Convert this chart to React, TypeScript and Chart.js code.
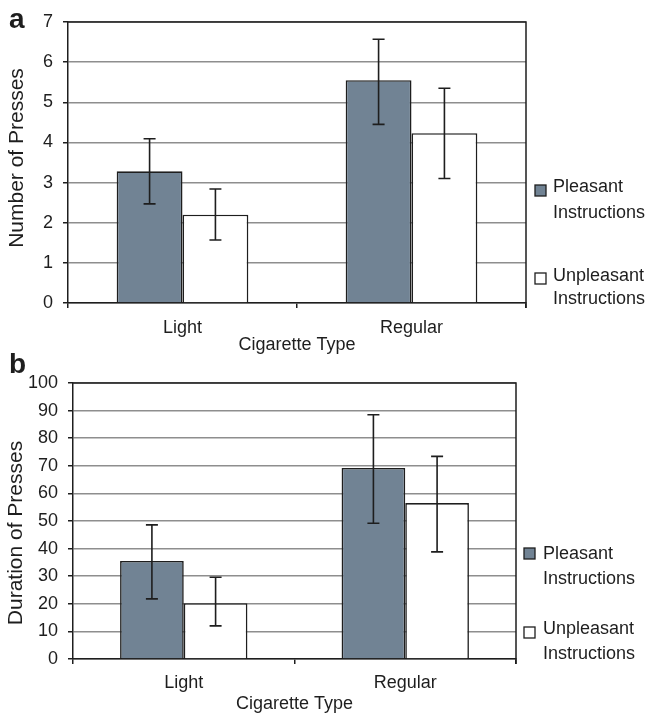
import React, { useEffect, useRef } from "react";
import { Chart, registerables } from "chart.js";

Chart.register(...registerables);

// ---------- data ----------
const categories = ["Light", "Regular"];
const seriesNames = ["Pleasant Instructions", "Unpleasant Instructions"];
const legendLines = [
  ["Pleasant", "Instructions"],
  ["Unpleasant", "Instructions"],
];
const xAxisTitle = "Cigarette Type";

// Panel a: Number of Presses
const pressesTitle = "Number of Presses";
const pressesMax = 7;
const pressesStep = 1;
const pressesPleasant = [3.28, 5.55];
const pressesPleasantHigh = [4.09, 6.57];
const pressesPleasantLow = [2.47, 4.45];
const pressesUnpleasant = [2.2, 4.23];
const pressesUnpleasantHigh = [2.84, 5.35];
const pressesUnpleasantLow = [1.57, 3.1];

// Panel b: Duration of Presses
const durationTitle = "Duration of Presses";
const durationMax = 100;
const durationStep = 10;
const durationPleasant = [35.5, 69.2];
const durationPleasantHigh = [48.6, 88.5];
const durationPleasantLow = [21.8, 49.2];
const durationUnpleasant = [20.2, 56.5];
const durationUnpleasantHigh = [29.6, 73.4];
const durationUnpleasantLow = [12.0, 38.8];

// ---------- style ----------
const FONT = "'Liberation Sans', Arial, Helvetica, sans-serif";
const DARK = "#1e1e1e";
const GRID = "#8e8e8e";
const PLEASANT_FILL = "#718394";
const UNPLEASANT_FILL = "#ffffff";

type Layout = {
  canvasTop: number;
  canvasHeight: number;
  padTop: number;
  padRight: number;
  yWidth: number;
  xHeight: number;
  xTickPad: number;
  xTitlePadBottom: number;
  yTitleX: number;
  yTitleY: number;
  letter: string;
  letterX: number;
  letterY: number;
  legendSquareX: number;
  legendTextX: number;
  legendRows: { sq: number; lines: number[] }[];
};

type Spec = {
  yTitle: string;
  yMax: number;
  yStep: number;
  values: number[][];
  highs: number[][];
  lows: number[][];
  layout: Layout;
};

const specA: Spec = {
  yTitle: pressesTitle,
  yMax: pressesMax,
  yStep: pressesStep,
  values: [pressesPleasant, pressesUnpleasant],
  highs: [pressesPleasantHigh, pressesUnpleasantHigh],
  lows: [pressesPleasantLow, pressesUnpleasantLow],
  layout: {
    canvasTop: 0,
    canvasHeight: 360,
    padTop: 22,
    padRight: 121,
    yWidth: 68,
    xHeight: 57,
    xTickPad: 9,
    xTitlePadBottom: 4,
    yTitleX: 17,
    yTitleY: 158,
    letter: "a",
    letterX: 9,
    letterY: 28,
    legendSquareX: 535,
    legendTextX: 553,
    legendRows: [
      { sq: 185, lines: [191.5, 218] },
      { sq: 273, lines: [280.5, 303.5] },
    ],
  },
};

const specB: Spec = {
  yTitle: durationTitle,
  yMax: durationMax,
  yStep: durationStep,
  values: [durationPleasant, durationUnpleasant],
  highs: [durationPleasantHigh, durationUnpleasantHigh],
  lows: [durationPleasantLow, durationUnpleasantLow],
  layout: {
    canvasTop: 340,
    canvasHeight: 375,
    padTop: 43,
    padRight: 131,
    yWidth: 73,
    xHeight: 56,
    xTickPad: 8,
    xTitlePadBottom: 0,
    yTitleX: 16,
    yTitleY: 193,
    letter: "b",
    letterX: 9,
    letterY: 33,
    legendSquareX: 524,
    legendTextX: 543,
    legendRows: [
      { sq: 208, lines: [218.5, 243.5] },
      { sq: 287, lines: [293.5, 318.5] },
    ],
  },
};

function makeConfig(spec: Spec): any {
  const L = spec.layout;
  const fills = [PLEASANT_FILL, UNPLEASANT_FILL];

  const decorations = {
    id: "decorations",
    afterDatasetsDraw(chart: any) {
      const ctx = chart.ctx;
      const area = chart.chartArea;
      const yScale = chart.scales.y;

      // error bars
      ctx.save();
      ctx.strokeStyle = DARK;
      ctx.lineWidth = 1.6;
      spec.values.forEach((_, di) => {
        const meta = chart.getDatasetMeta(di);
        meta.data.forEach((bar: any, i: number) => {
          const x = bar.x;
          const yh = yScale.getPixelForValue(spec.highs[di][i]);
          const yl = yScale.getPixelForValue(spec.lows[di][i]);
          ctx.beginPath();
          ctx.moveTo(x, yh);
          ctx.lineTo(x, yl);
          ctx.moveTo(x - 6, yh);
          ctx.lineTo(x + 6, yh);
          ctx.moveTo(x - 6, yl);
          ctx.lineTo(x + 6, yl);
          ctx.stroke();
        });
      });

      // top and right frame
      ctx.beginPath();
      ctx.lineWidth = 1.5;
      ctx.moveTo(area.left, area.top);
      ctx.lineTo(area.right, area.top);
      ctx.lineTo(area.right, area.bottom + 5);
      ctx.stroke();
      ctx.restore();
    },
    afterDraw(chart: any) {
      const ctx = chart.ctx;
      ctx.save();
      ctx.fillStyle = DARK;

      // y title
      ctx.save();
      ctx.translate(L.yTitleX, L.yTitleY);
      ctx.rotate(-Math.PI / 2);
      ctx.font = `21px ${FONT}`;
      ctx.textAlign = "center";
      ctx.textBaseline = "middle";
      ctx.fillText(spec.yTitle, 0, 0);
      ctx.restore();

      // panel letter
      ctx.font = `bold 28px ${FONT}`;
      ctx.textAlign = "left";
      ctx.textBaseline = "alphabetic";
      ctx.fillText(L.letter, L.letterX, L.letterY);

      // legend
      ctx.font = `18px ${FONT}`;
      L.legendRows.forEach((row, si) => {
        ctx.fillStyle = fills[si];
        ctx.fillRect(L.legendSquareX, row.sq, 11, 11);
        ctx.strokeStyle = DARK;
        ctx.lineWidth = 1.3;
        ctx.strokeRect(L.legendSquareX, row.sq, 11, 11);
        ctx.fillStyle = DARK;
        legendLines[si].forEach((t, li) => {
          ctx.fillText(t, L.legendTextX, row.lines[li]);
        });
      });
      ctx.restore();
    },
  };

  return {
    type: "bar",
    data: {
      labels: categories,
      datasets: spec.values.map((vals, di) => ({
        label: seriesNames[di],
        data: vals,
        backgroundColor: fills[di],
        borderColor: DARK,
        borderWidth: 1.6,
        categoryPercentage: 0.575,
        barPercentage: 1.0,
      })),
    },
    options: {
      animation: false,
      responsive: false,
      devicePixelRatio: 1,
      layout: {
        padding: { top: L.padTop, right: L.padRight, left: 0, bottom: 0 },
      },
      plugins: {
        legend: { display: false },
        tooltip: { enabled: false },
        title: { display: false },
      },
      scales: {
        x: {
          offset: true,
          grid: {
            offset: true,
            drawOnChartArea: false,
            drawTicks: true,
            tickLength: 5,
            color: DARK,
            lineWidth: 1.5,
          },
          border: { color: DARK, width: 1.5 },
          ticks: {
            color: DARK,
            padding: L.xTickPad,
            font: { family: FONT, size: 18 },
          },
          title: {
            display: true,
            text: xAxisTitle,
            color: DARK,
            padding: { top: 0, bottom: L.xTitlePadBottom },
            font: { family: FONT, size: 18 },
          },
          afterFit(scale: any) {
            scale.height = L.xHeight;
          },
        },
        y: {
          min: 0,
          max: spec.yMax,
          grid: {
            color: GRID,
            lineWidth: 1.5,
            tickColor: DARK,
            tickLength: 5,
            drawTicks: true,
          },
          border: { color: DARK, width: 1.5 },
          ticks: {
            stepSize: spec.yStep,
            color: DARK,
            padding: 10,
            font: { family: FONT, size: 18 },
          },
          afterFit(scale: any) {
            scale.width = L.yWidth;
          },
        },
      },
    },
    plugins: [decorations],
  };
}

function Panel({ spec }: { spec: Spec }) {
  const ref = useRef<HTMLCanvasElement | null>(null);
  useEffect(() => {
    if (!ref.current) return;
    const chart = new Chart(ref.current, makeConfig(spec));
    return () => chart.destroy();
  }, [spec]);
  return (
    <canvas
      ref={ref}
      width={647}
      height={spec.layout.canvasHeight}
      style={{
        position: "absolute",
        left: 0,
        top: spec.layout.canvasTop,
        width: 647,
        height: spec.layout.canvasHeight,
      }}
    />
  );
}

export default function App() {
  return (
    <div
      style={{
        position: "absolute",
        left: 0,
        top: 0,
        width: 647,
        height: 715,
        background: "#ffffff",
        overflow: "hidden",
      }}
    >
      <Panel spec={specA} />
      <Panel spec={specB} />
    </div>
  );
}
